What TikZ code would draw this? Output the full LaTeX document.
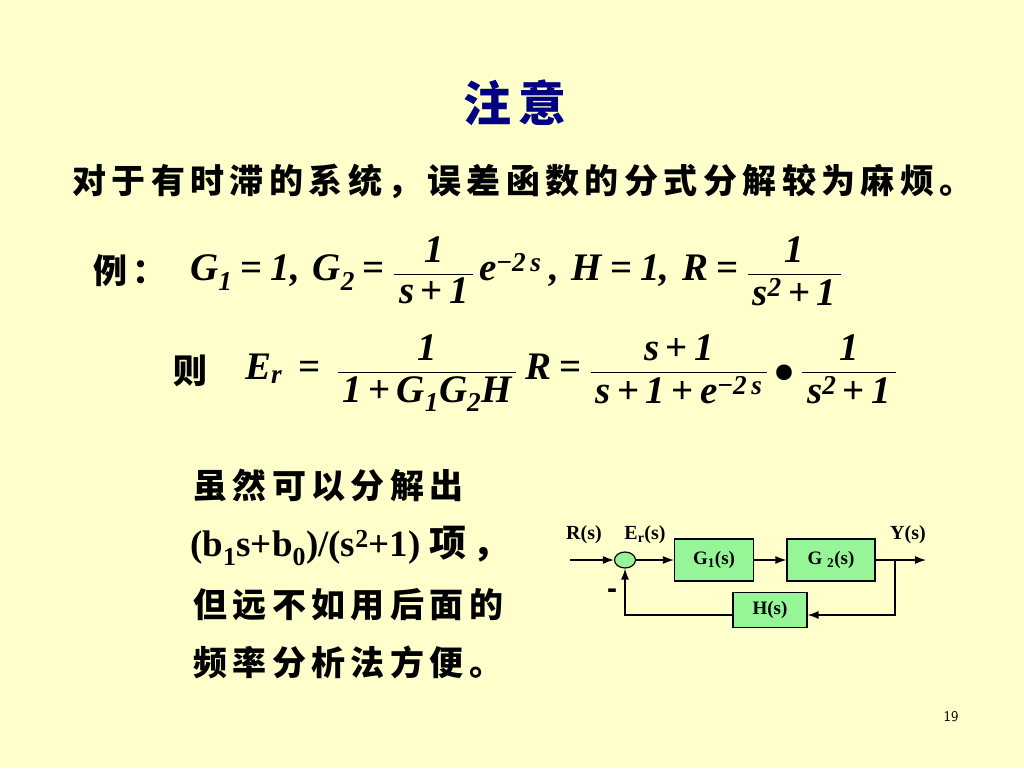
\documentclass[tikz,border=0pt]{standalone}
\usepackage{amsmath}
\usepackage{fontspec}
\setmainfont{Liberation Serif}
\newfontfamily\cjk{Noto Sans CJK SC}[LetterSpace=16]
\newfontfamily\dashfont{Liberation Sans}
\usetikzlibrary{calc,shapes.geometric,arrows.meta}
\definecolor{bgyellow}{RGB}{255,255,204}
\definecolor{titleblue}{RGB}{0,0,128}
\definecolor{boxgreen}{RGB}{150,245,150}
\newcommand{\ti}[1]{\text{\normalfont\bfseries\itshape #1}}
\newcommand{\tb}[1]{\text{\normalfont\bfseries #1}}
\newcommand{\eq}{\mathrel{\tb{=}}}
\newcommand{\pl}{\mathbin{\tb{+}}}
\newcommand{\cm}{\mathpunct{\ti{,}}}
\newcommand{\negsg}{\tb{−}}
\newcommand{\bigdot}{\mathbin{\vcenter{\hbox{\scalebox{1.4}{$\bullet$}}}}}
\tikzset{
	wire/.style={line width=1.3pt},
	arr/.style={wire,-{Latex[length=11pt,width=8pt]}},
	blk/.style={draw,line width=1.2pt,fill=boxgreen,minimum height=42pt,inner sep=0pt,font=\fontsize{19}{22}\selectfont\bfseries},
	sig/.style={font=\fontsize{20}{22}\selectfont\bfseries,inner sep=0pt},
	cn/.style={font=\fontsize{34}{38}\selectfont\cjk\bfseries,inner sep=0pt},
	fml/.style={font=\fontsize{39}{45}\selectfont\boldmath,inner sep=0pt}
}

\begin{document}
\begin{tikzpicture}[x=1pt,y=-1pt]
			%%%%% START %%%%%
			\def\xsum{625}
			\def\ysig{560}
			\def\yfb{615}
			\def\xtap{895}
			
			\fill[bgyellow] (0,0) rectangle (1024,768);
			\useasboundingbox (0,0) rectangle (1024,768);
			
			\node[font=\fontsize{48}{54}\selectfont\cjk\bfseries,text=titleblue,inner sep=0pt] (title) at (515,103) {注意};
			\node[cn,anchor=west] (intro) at (72,181) {对于有时滞的系统，误差函数的分式分解较为麻烦。};
			
			\node[cn,anchor=west] (ex) at (93,271) {例：};
			\node[fml,anchor=west] (eqone) at (190,271) {$\ti{G}_{\ti{1}} \eq \ti{1}\cm\;\ti{G}_{\ti{2}} \eq \dfrac{\ti{1}}{\,\ti{s}\pl\ti{1}\,}\,\ti{e}^{\negsg\ti{2\,s}}\;\cm\;\ti{H} \eq \ti{1}\cm\;\ti{R} \eq \dfrac{\ti{1}}{\,\ti{s}^{\ti{2}}\pl\ti{1}\,}$};
			\node[cn,anchor=west] (then) at (173,371) {则};
			\node[fml,anchor=west] (eqtwo) at (245,373) {$\ti{E}_{\ti{r}} \;\eq\; \dfrac{\ti{1}}{\,\ti{1}\pl\ti{G}_{\ti{1}}\ti{G}_{\ti{2}}\ti{H}\,}\;\ti{R} \eq \dfrac{\ti{s}\pl\ti{1}}{\,\ti{s}\pl\ti{1}\pl\ti{e}^{\negsg\ti{2\,s}}\,}\bigdot\dfrac{\ti{1}}{\,\ti{s}^{\ti{2}}\pl\ti{1}\,}$};
			
			\node[cn,anchor=west] (lineone) at (193,485) {虽然可以分解出};
			\node[anchor=west,inner sep=0pt,font=\fontsize{37}{40}\selectfont\bfseries] (linetwo) at (190,546) {(b\textsubscript{1}s+b\textsubscript{0})/(s\textsuperscript{2}+1) {\cjk 项，}};
			\node[cn,anchor=west] (linethree) at (193,605) {但远不如用后面的};
			\node[cn,anchor=west] (linefour) at (193,662) {频率分析法方便。};
			
			\node[font=\fontsize{15}{18}\selectfont\sffamily,inner sep=0pt] (page) at (951,717) {19};
			
			% block diagram
			\coordinate (in) at (570,\ysig);
			\node[ellipse,draw,line width=1.2pt,fill=boxgreen,minimum width=21pt,minimum height=16pt,inner sep=0pt] (sum) at (\xsum,\ysig) {};
			\node[blk,minimum width=79pt] (gone) at (714,\ysig) {G\textsubscript{1}(s)};
			\node[blk,minimum width=88pt] (gtwo) at (831,\ysig) {G \textsubscript{2}(s)};
			\node[blk,minimum width=74pt,minimum height=35pt] (h) at (770,610) {H(s)};
			\coordinate (out) at (926,\ysig);
			\coordinate (tap) at (\xtap,\ysig);
			
			\node[sig] (rlab) at (584,535) {R(s)};
			\node[sig] (elab) at (645,535) {E\textsubscript{r}(s)};
			\node[sig] (ylab) at (908,535) {Y(s)};
			\node[font=\fontsize{30}{30}\selectfont\dashfont\bfseries,inner sep=0pt] (minus) at (612,594) {-};
			
			\draw[arr] (in) -- (sum);
			\draw[arr] (sum) -- (gone);
			\draw[arr] (gone) -- (gtwo);
			\draw[arr] (gtwo) -- (out);
			\draw[arr] (tap) |- (h.east |- 0,\yfb);
			\draw[arr] (h.west |- 0,\yfb) -| (sum.south);
			%%%%% END %%%%%
\end{tikzpicture}
\end{document}
